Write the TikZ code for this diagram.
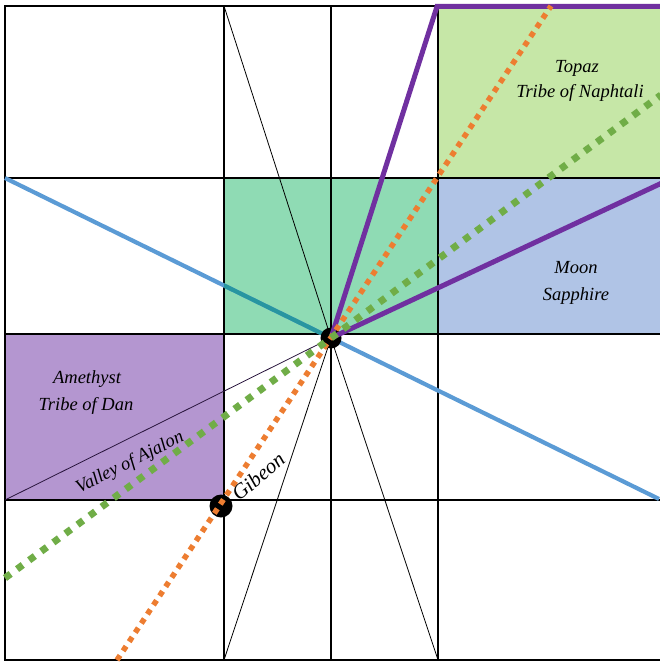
\documentclass[tikz,border=0pt]{standalone}
\usepackage{fontspec}
\setmainfont{Liberation Serif}
\definecolor{lineblue}{RGB}{91,155,213}
\definecolor{lineteal}{RGB}{40,150,160}
\definecolor{lineorange}{RGB}{237,125,49}
\definecolor{linegreen}{RGB}{112,173,71}
\definecolor{linepurple}{RGB}{112,48,160}
\definecolor{fillcenter}{RGB}{143,219,180}
\definecolor{filltopaz}{RGB}{198,231,167}
\definecolor{fillmoon}{RGB}{176,196,230}
\definecolor{fillamethyst}{RGB}{180,150,208}
\definecolor{valleyline}{RGB}{40,20,60}
\begin{document}
\begin{tikzpicture}[x=1pt,y=-1pt,
  gridline/.style={line width=1.4pt, black},
  frameline/.style={line width=2.4pt, black},
  thinline/.style={line width=0.8pt, black},
  bluepath/.style={line width=4.2pt, color=lineblue},
  orangedots/.style={line width=5.5pt, color=lineorange, dash pattern=on 5.5pt off 5.5pt},
  greendots/.style={line width=7pt, color=linegreen, dash pattern=on 7pt off 8pt},
  purplepath/.style={line width=5pt, color=linepurple, line join=miter},
  bigdot/.style={circle, fill=black, inner sep=0pt},
  boxtext/.style={font=\fontsize{18.5}{21}\selectfont\itshape, inner sep=0pt, anchor=base}
]
\useasboundingbox (0,0) rectangle (659,666);
% coordinates
\coordinate (C) at (331,338);
\coordinate (G) at (221,506);
% fills
\fill[fillcenter] (224,178) rectangle (438,334);
\fill[filltopaz] (438,6) rectangle (662,178);
\fill[fillmoon] (438,178) rectangle (662,334);
\fill[fillamethyst] (5,334) rectangle (224,500);
% grid
\foreach \x in {224,331,438} \draw[gridline] (\x,6) -- (\x,660);
\foreach \y in {178,334,500} \draw[gridline] (5,\y) -- (662,\y);
\draw[frameline] (5,6) rectangle (662,660);
% thin lines through centre
\coordinate (T1) at (224,6);
\coordinate (B1) at (438,660);
\coordinate (T2) at (438,6);
\coordinate (B2) at (224,660);
\coordinate (V1) at (5,500);
\draw[thinline] (T1) -- (C) -- (B1);
\draw[thinline] (T2) -- (C) -- (B2);
\draw[thinline, color=valleyline] (V1) -- (C);
% blue line
\coordinate (BL) at (5,178);
\coordinate (BR) at (659,499);
\draw[bluepath] (BL) -- (C) -- (BR);
\begin{scope}
  \clip (224,178) rectangle (331,334);
  \draw[bluepath, color=lineteal] (BL) -- (C);
\end{scope}
\draw[thinline] (224,178) -- (331,178);
% dots
\node[bigdot, minimum size=21pt] (cdot) at (C) {};
\node[bigdot, minimum size=23pt] (gdot) at (G) {};
% purple
\coordinate (P1) at (437,6.5);
\coordinate (P2) at (664,6.5);
\coordinate (P3) at (664,182);
\draw[purplepath] (C) -- (P1) -- (P2);
\draw[purplepath] (C) -- (P3);
% orange
\coordinate (OB) at (117,660);
\coordinate (OT) at (551,6);
\draw[orangedots] (OB) -- (OT);
% green
\coordinate (GL) at (5,578);
\coordinate (GR) at (661,95);
\draw[greendots] (GL) -- (GR);
% texts
\node[boxtext] (topaz) at (577,73) {Topaz};
\node[boxtext] (naphtali) at (580,98) {Tribe of Naphtali};
\node[boxtext] (moon) at (576,273) {Moon};
\node[boxtext] (sapphire) at (576,300) {Sapphire};
\node[boxtext] (amethyst) at (87,383) {Amethyst};
\node[boxtext] (dan) at (86,410) {Tribe of Dan};
\node[boxtext, rotate=26.8] (valley) at (132,467) {Valley of Ajalon};
\node[boxtext, font=\fontsize{21}{24}\selectfont\itshape, anchor=base west, rotate=40] (gibeon) at (239,502) {Gibeon};
\end{tikzpicture}
\end{document}
